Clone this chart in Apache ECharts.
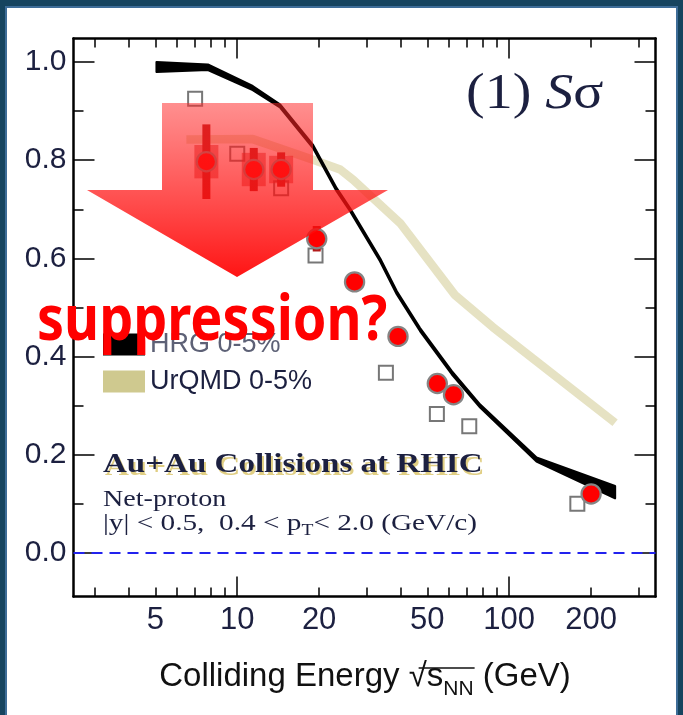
<!DOCTYPE html>
<html><head><meta charset="utf-8">
<script src="https://cdn.jsdelivr.net/npm/echarts@6/dist/echarts.min.js"></script>
<style>html,body{margin:0;padding:0;background:#fff;overflow:hidden}#c{width:683px;height:715px}</style>
</head><body><div id="c"></div>
<script>
// Net-proton S*sigma vs colliding energy, Au+Au 0-5%
const starEnergy  = [7.7, 11.5, 14.5, 19.6, 27, 39, 54.4, 62.4, 200];
const starSSigma  = [0.797, 0.781, 0.781, 0.640, 0.552, 0.441, 0.345, 0.322, 0.120];
const starStatErr = [0.076, 0.044, 0.035, 0.026, 0.014, 0.010, 0.008, 0.008, 0.004];
const starSysErr  = [0.034, 0.034, 0.028, 0, 0, 0, 0, 0, 0];

const openEnergy = [7.0, 10.0, 14.5, 19.4, 35.2, 54.2, 71.3, 178];
const openSSigma = [0.925, 0.813, 0.743, 0.606, 0.367, 0.283, 0.258, 0.100];

const hrgEnergy = [5.05, 7.8, 11.4, 14.4, 19.0, 23.2, 26.0, 33.5, 38.6, 47.0, 61.5, 78.2, 126, 245];
const hrgHigh   = [1.000, 0.995, 0.951, 0.913, 0.831, 0.743, 0.702, 0.600, 0.533, 0.458, 0.370, 0.302, 0.194, 0.136];
const hrgLow    = [0.980, 0.984, 0.943, 0.907, 0.825, 0.737, 0.696, 0.594, 0.527, 0.452, 0.364, 0.296, 0.186, 0.111];

const urqmdEnergy = [6.5, 11.4, 19.0, 23.9, 26.7, 39.7, 63.0, 87.0, 245];
const urqmdSSigma = [0.842, 0.843, 0.801, 0.781, 0.760, 0.672, 0.526, 0.460, 0.265];

const xLabelValues = [5, 10, 20, 50, 100, 200];
const xMajorTicks  = [10, 100];
const xMinorTicks  = [3, 4, 5, 6, 7, 8, 9, 20, 30, 40, 50, 60, 70, 80, 90, 200, 300];
const yLabelValues = [0, 0.2, 0.4, 0.6, 0.8, 1.0];
const yMinorTicks  = [0.1, 0.3, 0.5, 0.7, 0.9];

const lg = Math.log10;
const X_MIN = lg(2.5), X_MAX = lg(345);
const Y_MIN = -0.089, Y_MAX = 1.048;
const INK = '#1c2040';
const SANS = '"Liberation Sans", Arial, sans-serif';
const SERIF = '"Liberation Serif", "Times New Roman", serif';

function xAxisDef(pos, ticks, len, withLine, labels) {
  return {
    type: 'value', position: pos, min: X_MIN, max: X_MAX,
    axisLine: { show: withLine, onZero: false, lineStyle: { color: '#000', width: 2.5 } },
    axisTick: { show: true, inside: true, length: len, customValues: ticks.map(lg),
                lineStyle: { color: '#000', width: 1.5 } },
    axisLabel: labels ? {
      show: true, customValues: labels.map(lg), margin: 8,
      formatter: v => String(Math.round(Math.pow(10, v))),
      color: INK, fontSize: 31, fontFamily: SANS
    } : { show: false },
    splitLine: { show: false }
  };
}
function yAxisDef(pos, ticks, len, withLine, labels) {
  return {
    type: 'value', position: pos, min: Y_MIN, max: Y_MAX,
    axisLine: { show: withLine, onZero: false, lineStyle: { color: '#000', width: 2.5 } },
    axisTick: { show: true, inside: true, length: len, customValues: ticks,
                lineStyle: { color: '#000', width: 1.5 } },
    axisLabel: labels ? {
      show: true, customValues: labels, margin: 7,
      formatter: v => v.toFixed(1),
      color: INK, fontSize: 30, fontFamily: SANS
    } : { show: false },
    splitLine: { show: false }
  };
}

// x-axis title pieces laid out with measured widths
const measureCtx = document.createElement('canvas').getContext('2d');
function textWidth(str, font) { measureCtx.font = font; return measureCtx.measureText(str).width; }
const TITLE_FS = 33, SUB_FS = 21;
const titleParts = [
  { t: 'Colliding Energy ', fs: TITLE_FS, dy: 0 },
  { t: '\u221A', fs: TITLE_FS, dy: 0 },
  { t: 's', fs: TITLE_FS, dy: 0 },
  { t: 'NN', fs: SUB_FS, dy: 7 },
  { t: ' (GeV)', fs: TITLE_FS, dy: 0 }
];
titleParts.forEach(p => { p.w = textWidth(p.t, p.fs + 'px ' + SANS); });
const titleTotal = titleParts.reduce((s, p) => s + p.w, 0);
const TITLE_CX = 365, TITLE_BASE = 693;
let cursor = TITLE_CX - titleTotal / 2;
const titleGraphics = [];
let radStart = 0, radEnd = 0;
titleParts.forEach((p, i) => {
  titleGraphics.push({ type: 'text', x: cursor, y: TITLE_BASE + p.dy, z: 11,
    style: { text: p.t, font: p.fs + 'px ' + SANS, fill: '#111', verticalAlign: 'bottom' } });
  if (i === 1) radStart = cursor + p.w * 0.55;
  if (i === 3) radEnd = cursor + p.w + 1;
  cursor += p.w;
});

const chart = echarts.init(document.getElementById('c'), null, { renderer: 'canvas' });

const option = {
  backgroundColor: '#ffffff',
  animation: false,
  grid: { left: 73.5, right: 27.5, top: 38.5, bottom: 118.5, containLabel: false },
  xAxis: [
    xAxisDef('bottom', xMajorTicks, 20, true, xLabelValues),
    xAxisDef('bottom', xMinorTicks, 9, false, null),
    xAxisDef('top', xMajorTicks, 20, true, null),
    xAxisDef('top', xMinorTicks, 9, false, null)
  ],
  yAxis: [
    yAxisDef('left', yLabelValues, 21, true, yLabelValues),
    yAxisDef('left', yMinorTicks, 10, false, null),
    yAxisDef('right', yLabelValues, 21, true, null),
    yAxisDef('right', yMinorTicks, 10, false, null)
  ],
  legend: {
    orient: 'vertical', left: 103, top: 331, padding: 0,
    itemWidth: 42, itemHeight: 22, itemGap: 10,
    textStyle: { color: INK, fontSize: 27, fontFamily: SANS },
    data: [
      { name: 'HRG 0-5%', icon: 'rect', itemStyle: { color: '#000' }, textStyle: { color: '#5d6176' } },
      { name: 'UrQMD 0-5%', icon: 'rect', itemStyle: { color: '#cfc98f' } }
    ]
  },
  series: [
    {
      name: 'UrQMD 0-5%', type: 'line', z: 2,
      data: urqmdEnergy.map((e, i) => [lg(e), urqmdSSigma[i]]),
      showSymbol: false, smooth: false,
      lineStyle: { color: 'rgba(214,208,158,0.62)', width: 8.5, cap: 'butt', join: 'round' },
      itemStyle: { color: '#cfc98f' },
      markLine: {
        silent: true, symbol: 'none', label: { show: false },
        lineStyle: { color: '#2222ee', width: 2, type: [11, 7] },
        data: [{ yAxis: 0 }]
      }
    },
    {
      name: 'HRG 0-5%', type: 'custom', z: 3,
      data: hrgEnergy.map((e, i) => [lg(e), hrgLow[i], hrgHigh[i]]),
      itemStyle: { color: '#000' },
      renderItem: function (params, api) {
        if (params.dataIndex !== 0) return null;
        const upper = hrgEnergy.map((e, i) => api.coord([lg(e), hrgHigh[i]]));
        const lower = hrgEnergy.map((e, i) => api.coord([lg(e), hrgLow[i]])).reverse();
        return {
          type: 'polygon',
          shape: { points: upper.concat(lower) },
          style: { fill: '#000', stroke: '#000', lineWidth: 2.2, lineJoin: 'round' }
        };
      }
    },
    {
      name: 'open', type: 'scatter', z: 4,
      data: openEnergy.map((e, i) => [lg(e), openSSigma[i]]),
      symbol: 'rect', symbolSize: 14,
      itemStyle: { color: '#ffffff', borderColor: '#555555', borderWidth: 2 }
    },
    {
      // error bars and the markers on top of them, drawn in one pass so the markers stay in front
      name: 'STAR', type: 'custom', z: 6,
      data: starEnergy.map((e, i) => [lg(e), starSSigma[i], starStatErr[i], starSysErr[i]]),
      renderItem: function (params, api) {
        const x = api.value(0), y = api.value(1), st = api.value(2), sy = api.value(3);
        const c = api.coord([x, y]);
        const stTop = api.coord([x, y + st]), stBot = api.coord([x, y - st]);
        const children = [];
        if (sy > 0) {
          const sysTop = api.coord([x, y + sy]), sysBot = api.coord([x, y - sy]);
          children.push({ type: 'rect', shape: { x: sysTop[0] - 12, y: sysTop[1], width: 24, height: sysBot[1] - sysTop[1] },
            style: { fill: 'rgba(200,40,40,0.55)' } });
        }
        children.push({ type: 'rect', shape: { x: stTop[0] - 4, y: stTop[1], width: 8, height: stBot[1] - stTop[1] },
          style: { fill: '#b31b1b' } });
        children.push({ type: 'circle', shape: { cx: c[0], cy: c[1], r: 9.6 },
          style: { fill: '#ff0000', stroke: '#858585', lineWidth: 2.2 } });
        return { type: 'group', children: children };
      }
    }
  ],
  graphic: titleGraphics.concat([
    { type: 'line', z: 11, shape: { x1: radStart, y1: TITLE_BASE - 25, x2: radEnd, y2: TITLE_BASE - 25 },
      style: { stroke: '#111', lineWidth: 1.5 } },
    // experiment / cut annotations
    { type: 'text', x: 105, y: 468, z: 10, scaleX: 1.18,
      style: { text: 'Au+Au Collisions at RHIC', font: 'bold 28px ' + SERIF, fill: 'rgba(214,190,90,0.75)', verticalAlign: 'middle' } },
    { type: 'text', x: 103, y: 465, z: 11, scaleX: 1.18,
      style: { text: 'Au+Au Collisions at RHIC', font: 'bold 28px ' + SERIF, fill: INK, verticalAlign: 'middle' } },
    { type: 'text', x: 103, y: 500, z: 11, scaleX: 1.17,
      style: { text: 'Net-proton', font: '24px ' + SERIF, fill: INK, verticalAlign: 'middle' } },
    { type: 'text', x: 103, y: 524, z: 11, scaleX: 1.22,
      style: {
        text: '|y| < 0.5,  0.4 < {b|p}{s|T}{a|< 2.0 (GeV/c)}', font: '24px ' + SERIF, fill: INK, verticalAlign: 'middle',
        rich: {
          a: { fontSize: 24, fontFamily: SERIF, fill: INK },
          b: { fontSize: 24, fontFamily: SERIF, fill: INK },
          s: { fontSize: 16, fontFamily: SERIF, fill: INK, padding: [14, 0, 0, 0] }
        }
      } },
    { type: 'text', x: 466, y: 95, z: 11, scaleX: 1.12,
      style: {
        text: '(1) {i|S}σ', font: '50px ' + SERIF, fill: INK, verticalAlign: 'middle',
        rich: { i: { fontSize: 50, fontFamily: SERIF, fontStyle: 'italic', fill: INK } }
      } },
    // translucent downward arrow
    { type: 'polygon', z: 20,
      shape: { points: [[162, 103], [313, 103], [313, 190], [388, 190], [237, 277], [87, 190], [162, 190]] },
      style: { fill: new echarts.graphic.LinearGradient(0, 0, 0, 1, [
        { offset: 0, color: 'rgba(255,40,40,0.52)' },
        { offset: 1, color: 'rgba(255,0,0,0.92)' }
      ]) } },
    { type: 'text', x: 37, y: 322, z: 21, scaleX: 0.87,
      style: { text: 'suppression?', font: 'bold 62px "Noto Sans", sans-serif', fill: '#ff0000', verticalAlign: 'middle' } },
    // slide frame
    { type: 'rect', z: 30, shape: { x: 0, y: 0, width: 5, height: 715 }, style: { fill: '#16445f' } },
    { type: 'rect', z: 30, shape: { x: 5, y: 0, width: 2, height: 715 }, style: { fill: '#3e6d98' } },
    { type: 'rect', z: 30, shape: { x: 0, y: 0, width: 683, height: 6 }, style: { fill: '#16445f' } },
    { type: 'rect', z: 30, shape: { x: 5, y: 6, width: 673, height: 2 }, style: { fill: '#3e6d98' } },
    { type: 'rect', z: 30, shape: { x: 678, y: 0, width: 5, height: 715 }, style: { fill: '#16445f' } },
    { type: 'rect', z: 30, shape: { x: 676, y: 6, width: 2, height: 709 }, style: { fill: '#3e6d98' } }
  ])
};
chart.setOption(option);
</script>
</body></html>
